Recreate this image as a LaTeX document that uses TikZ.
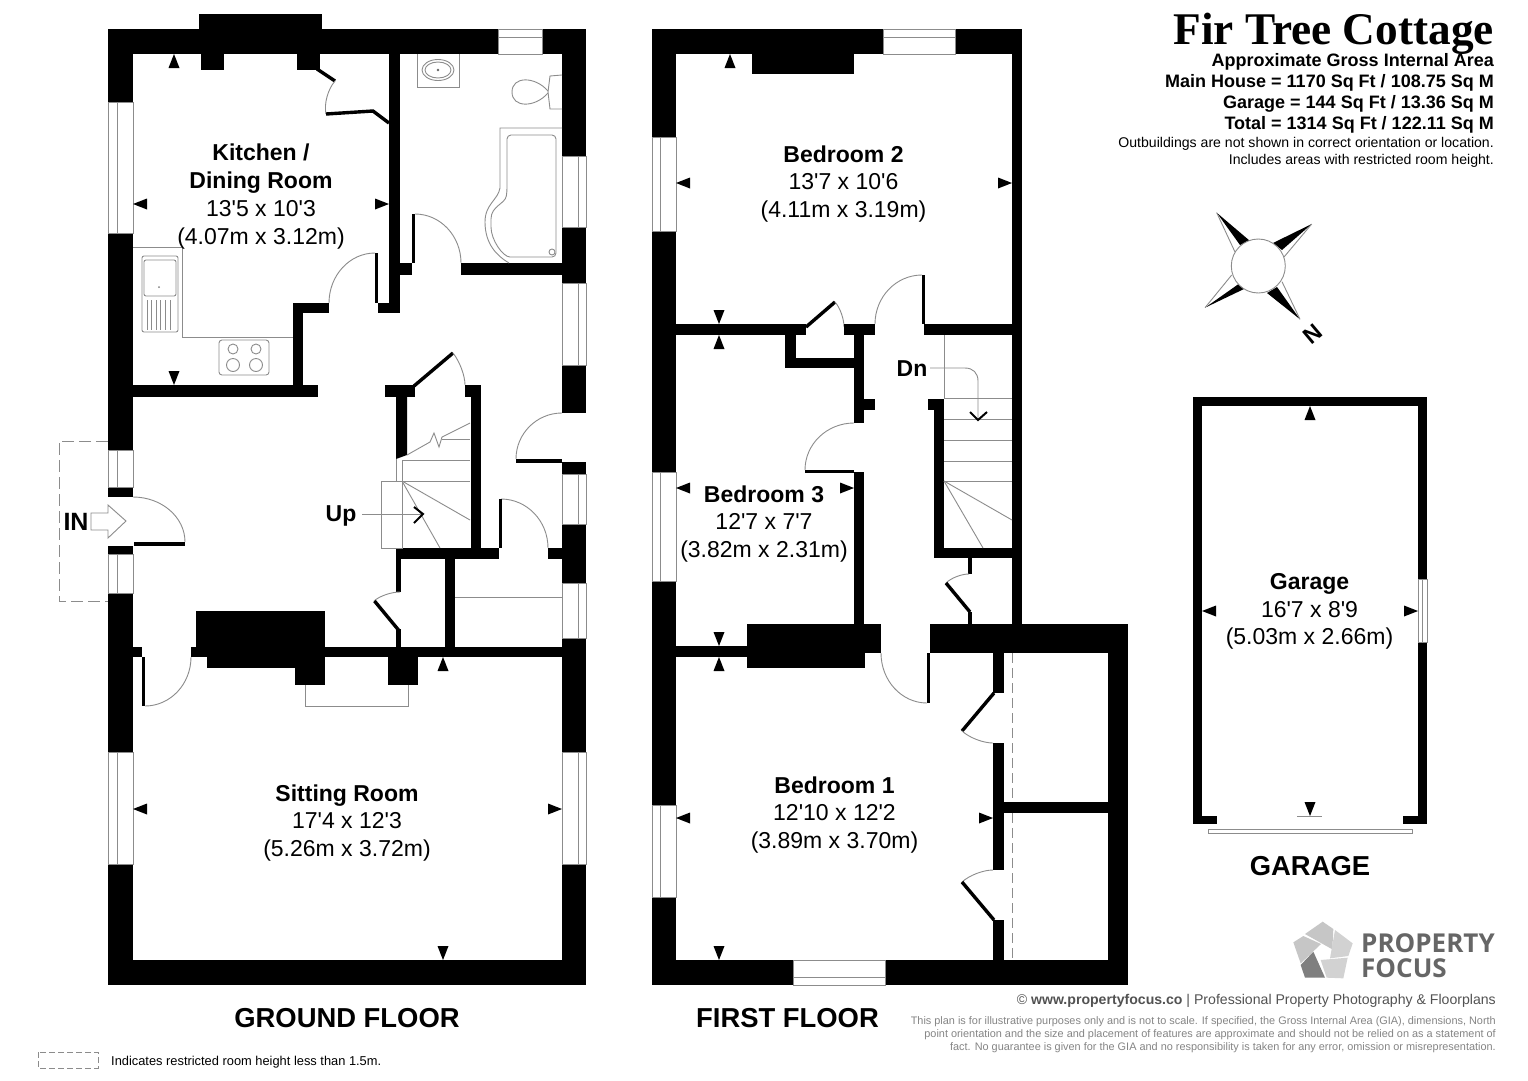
\documentclass[tikz,border=0pt]{standalone}
\usepackage{fontspec}
\newfontfamily\ar{Liberation Sans}
\newfontfamily\tms{Liberation Serif}
\newfontfamily\ops{Open Sans}
\definecolor{thin}{HTML}{8C8C8C}
\definecolor{logoA}{HTML}{C6C6C6}
\definecolor{logoB}{HTML}{D2D2D2}
\definecolor{logoD}{HTML}{7F7F7F}
\newcommand{\wl}[4]{\fill[black] (#1,#2) rectangle (#3,#4);}
\newcommand{\vwin}[5]{\draw[gl] (#1,#2) rectangle (#3,#4); \draw[gl] (#5,#2) -- (#5,#4);}
\newcommand{\hwin}[5]{\draw[gl] (#1,#2) rectangle (#3,#4); \draw[gl] (#1,#5) -- (#3,#5);}
\newcommand{\triU}[2]{\fill[black] (#1,#2) -- ({#1-5.5},{#2+14}) -- ({#1+5.5},{#2+14}) -- cycle;}
\newcommand{\triD}[2]{\fill[black] (#1,#2) -- ({#1-5.5},{#2-14}) -- ({#1+5.5},{#2-14}) -- cycle;}
\newcommand{\triL}[2]{\fill[black] (#1,#2) -- ({#1+14},{#2-5.5}) -- ({#1+14},{#2+5.5}) -- cycle;}
\newcommand{\triR}[2]{\fill[black] (#1,#2) -- ({#1-14},{#2-5.5}) -- ({#1-14},{#2+5.5}) -- cycle;}
\newcommand{\swing}[6]{\draw[gl] (#1,#2) .. controls ({#1+0.5523*(#5-#1)},{#2+0.5523*(#6-#2)}) and ({#3+0.5523*(#5-#3)},{#4+0.5523*(#6-#4)}) .. (#3,#4);}
\newcommand{\leaf}[4]{\draw[lf] (#1,#2) -- (#3,#4);}
\tikzset{
  x=1pt,y=-1pt,
  gl/.style={draw=thin,line width=0.9pt},
  lf/.style={draw=black,line width=3.4pt},
  room/.style={align=center,inner sep=0pt,font=\ar\fontsize{23}{27.7}\selectfont},
  big/.style={inner sep=0pt,font=\ar\bfseries\fontsize{27.4}{30}\selectfont},
  hd/.style={anchor=base east,inner sep=0pt,font=\ar\bfseries\fontsize{18}{20}\selectfont},
  nt/.style={anchor=base east,inner sep=0pt,font=\ar\fontsize{14.1}{17}\selectfont},
  fine/.style={anchor=base east,inner sep=0pt,text=black!48,font=\ar\fontsize{10.9}{14}\selectfont},
  lbl/.style={inner sep=0pt,font=\ar\bfseries\fontsize{23}{26}\selectfont},
  logot/.style={anchor=base west,inner sep=0pt,text=black!60,font=\ops\bfseries\fontsize{26}{28}\selectfont},
}
\begin{document}
\begin{tikzpicture}
\useasboundingbox (0,0) rectangle (1528,1080);
\fill[white] (0,0) rectangle (1528,1080);

%% ---------- GROUND FLOOR ----------
% outer walls
\wl{108}{29}{498}{54} \wl{542}{29}{586}{54}
\wl{108}{29}{133}{102} \wl{108}{233}{133}{450} \wl{108}{487}{133}{497} \wl{108}{546}{133}{554} \wl{108}{593}{133}{752} \wl{108}{864}{133}{985}
\wl{562}{29}{586}{156} \wl{562}{227}{586}{283} \wl{562}{365}{586}{413} \wl{562}{462}{586}{474} \wl{562}{524}{586}{583} \wl{562}{638}{586}{752} \wl{562}{864}{586}{985}
\wl{108}{960}{586}{985}
% windows
\vwin{108}{102}{133}{233}{117}
\vwin{108}{450}{133}{487}{117}
\vwin{108}{554}{133}{593}{117}
\vwin{108}{752}{133}{864}{117}
\vwin{562}{156}{586}{227}{578}
\vwin{562}{283}{586}{365}{578}
\vwin{562}{474}{586}{524}{578}
\vwin{562}{583}{586}{638}{578}
\vwin{562}{752}{586}{864}{578}
\hwin{498}{29}{542}{54}{37}
% kitchen chimney
\wl{199}{14}{322}{39} \wl{201}{29}{224}{70} \wl{297}{29}{320}{70}
% partitions
\wl{389}{54}{400}{313} \wl{378}{303}{400}{313} \wl{400}{263}{412}{275}
\wl{412}{214}{415}{263} \wl{461}{263}{562}{275} \wl{375}{253}{378}{303}
\wl{293}{303}{329}{313} \wl{293}{303}{303}{397} \wl{133}{385}{318}{397}
% kitchen cupboard
\leaf{317}{69}{335}{81}
\swing{335}{81}{326}{114}{322}{96}
\draw[lf] (326,114) -- (373,111) -- (389,123);
% doors
\swing{375}{253}{329}{303}{329}{253}
\swing{415}{214}{461}{263}{461}{214}
\swing{562}{413}{516}{459}{516}{413}
\wl{516}{459}{562}{463}
\swing{501}{499}{548}{548}{548}{499}
\wl{498.5}{499}{501.5}{548}
\wl{548}{548}{562}{559}
\swing{133}{497}{185}{542}{185}{497}
\wl{134}{542}{185}{546}
% stair cupboard
\wl{385}{385}{415}{397}
\fill[black] (396,397) -- (407,397) -- (407,455) -- (396,459) -- cycle;
\leaf{414}{386}{453}{353}
\swing{453}{353}{465}{385}{465}{368}
\wl{465}{385}{480}{397} \wl{470.5}{385}{480.5}{549}
\wl{396}{548}{498.5}{559}
% stairs
\draw[gl] (396,459) -- (396,481);
\draw[gl] (402,460) -- (402,548);
\draw[gl] (402,460.5) -- (470,460.5);
\draw[gl] (381,481) rectangle (402,548);
\draw[gl] (402,481) -- (470,481);
\draw[gl] (402,481) -- (470,520);
\draw[gl] (402,481) -- (440,548);
\draw[gl] (407,455) -- (430,442) -- (434,433) -- (439,447) -- (442,437) -- (470,423);
\draw[gl] (442,439) -- (470,439);
\node[lbl] (upl) at (341,516) {Up};
\coordinate (upend) at (423,514);
\coordinate (upstart) at (362,514);
\draw[gl] (upstart) -- (upend);
\draw[black,line width=2pt] (414,507) -- (upend) -- (414,523);
% lower hall
\wl{396}{559}{400.5}{592} \wl{396}{629}{400.5}{647}
\swing{400}{592}{374}{601}{384}{592}
\leaf{374.5}{601}{398.5}{630}
\wl{445}{559}{455}{647}
\draw[gl] (455,597) -- (562,597);
% sitting top wall
\wl{191}{646.5}{562}{657} \wl{133}{646.5}{142}{657}
\wl{142}{657}{145}{706}
\swing{145}{706}{191}{657}{191}{706}
% chimney
\wl{196}{611}{325}{647} \wl{207}{657}{325}{668} \wl{295}{657}{325}{685} \wl{388}{657}{418}{685}
\draw[gl] (305,685) -- (305,706) -- (408,706) -- (408,685);
% IN
\draw[gl,dashed,dash pattern=on 12pt off 5pt,draw=thin] (108,441) -- (59,441) -- (59,601) -- (108,601);
\draw[gl] (91,513) -- (108,513) -- (108,505) -- (126,521) -- (108,538) -- (108,530) -- (91,530) -- cycle;
\node[inner sep=0pt,font=\ar\bfseries\fontsize{25}{27}\selectfont] (inl) at (76,522) {IN};
% bathroom fittings
\draw[gl] (417,54) -- (417,87) -- (459,87) -- (459,54);
\draw[gl] (438,70) ellipse [x radius=16,y radius=10.5];
\draw[gl] (438,70) ellipse [x radius=13,y radius=8];
\fill[black!60] (438,70) circle (1.4);
\draw[gl] (548,91) .. controls (535,76) and (512,76) .. (512,92) .. controls (512,108) and (535,108) .. (548,93);
\draw[gl] (562,75) -- (550,76) -- (548,92) -- (550,109) -- (562,109);
\draw[gl] (562,128) -- (500,128) -- (500,188) .. controls (498,200) and (485,204) .. (485,222) .. controls (485,244) and (497,256) .. (509,263);
\draw[gl,rounded corners=4pt] (556,135) -- (507,135) -- (507,192) .. controls (505,204) and (491,206) .. (491,223) .. controls (491,240) and (503,257) .. (514,257) -- (556,257) -- cycle;
\draw[gl] (552,252) circle (3);
% kitchen units
\draw[gl] (133,247) -- (182,247) -- (182,337) -- (293,337);
\draw[gl,rounded corners=2pt] (142,256) rectangle (178,332);
\draw[gl,rounded corners=2pt] (144,260) rectangle (176,296);
\fill[black!50] (159,287) circle (1);
\foreach \xx in {147,151.6,156.2,160.8,165.4,170}{\draw[gl] (\xx,300) -- (\xx,330);}
\draw[gl,rounded corners=3pt] (219,340) rectangle (269,375);
\draw[gl] (233,349) circle (5);
\draw[gl] (256,349) circle (5);
\draw[gl] (233,365) circle (6.5);
\draw[gl] (256,365) circle (6.5);
% markers
\triU{174}{54} \triL{133}{204} \triR{389}{204} \triD{174}{385}
\triL{133}{809} \triR{562}{809} \triU{443}{657} \triD{443}{960}

%% ---------- FIRST FLOOR ----------
\wl{652}{29}{883}{54} \wl{955}{29}{1022}{54}
\wl{652}{29}{676}{137} \wl{652}{231}{676}{472} \wl{652}{581}{676}{805} \wl{652}{897}{676}{985}
\wl{652}{960}{793}{985} \wl{885}{960}{1128}{985}
\wl{1012}{29}{1022}{630} \wl{1108}{624}{1128}{985}
\vwin{652}{137}{676}{231}{660}
\vwin{652}{472}{676}{581}{660}
\vwin{652}{805}{676}{897}{660}
\hwin{883}{29}{955}{54}{37}
\hwin{793}{960}{885}{985}{977}
\wl{752}{54}{854}{74}
% bed2 bottom wall & closet
\wl{676}{324}{806}{335}
\leaf{806}{327}{835}{302}
\swing{835}{302}{844}{327}{844}{312}
\wl{844}{324}{875}{335} \wl{924}{324}{1012}{335}
\wl{922}{275}{925}{324}
\swing{922}{275}{875}{324}{875}{275}
\wl{785}{335}{796}{368} \wl{785}{358}{864}{368} \wl{854}{335}{864}{423}
\wl{864}{399}{875}{410}
\swing{854}{423}{805}{470}{805}{423}
\wl{805}{470}{854}{473} \wl{854}{472}{864}{630}
% stairs
\wl{928}{399}{944}{410} \wl{934}{399}{944}{558} \wl{934}{548}{1012}{558}
\draw[gl] (944,335) -- (944,399);
\foreach \yy in {398,419,440,461,481}{\draw[gl] (944,\yy) -- (1012,\yy);}
\draw[gl] (944,481) -- (1012,520);
\draw[gl] (944,481) -- (983,548);
\node[lbl] (dnl) at (912,369) {Dn};
\coordinate (dnend) at (978,420);
\coordinate (dnstart) at (930,368);
\draw[gl] (dnstart) -- (965,368) .. controls (973,368) and (978,373) .. (978,381) -- (dnend);
\draw[black,line width=2pt] (970,412) -- (dnend) -- (987,412);
% hall cupboard
\wl{968}{558}{972}{574} \wl{968}{612}{972}{624}
\swing{969}{574}{946}{583}{955}{574}
\leaf{946}{583}{970}{612}
% bed1 top
\wl{676}{646}{747}{657} \wl{747}{624}{881}{653} \wl{747}{653}{865}{668}
\wl{930}{624}{1128}{653}
\wl{927}{653}{930}{703}
\swing{881}{653}{927}{703}{881}{703}
% storage
\draw[gl,dashed,dash pattern=on 10pt off 5pt] (1012,653) -- (1012,802);
\draw[gl,dashed,dash pattern=on 10pt off 5pt] (1012,813) -- (1012,960);
\wl{993}{653}{1004}{693} \wl{993}{743}{1004}{870} \wl{993}{920}{1004}{960}
\leaf{994}{693}{962}{731}
\swing{962}{731}{993}{743}{975}{743}
\swing{993}{870}{962}{882}{975}{870}
\leaf{962}{882}{994}{920}
\wl{993}{802}{1108}{813}
% markers
\triU{730}{54} \triL{676}{183} \triR{1012}{183} \triD{719}{324}
\triU{719}{335} \triL{676}{488} \triR{854}{488} \triD{719}{646}
\triU{719}{657} \triL{676}{818} \triR{993}{818} \triD{719}{960}

%% ---------- GARAGE ----------
\wl{1193}{397}{1427}{406} \wl{1193}{397}{1202}{824} \wl{1418}{397}{1427}{579} \wl{1418}{642}{1427}{824}
\wl{1193}{816}{1217}{824} \wl{1403}{816}{1427}{824}
\vwin{1418}{579}{1427}{642}{1422.5}
\draw[gl] (1208,829) rectangle (1412,833);
\triU{1310}{406} \triL{1202}{611} \triR{1418}{611} \triD{1310}{816}
\draw[gl] (1297,816) -- (1322,816);

%% ---------- ROOM TEXT ----------
\node[room] (kitchen) at (261,196.5) {\textbf{Kitchen /}\\\textbf{Dining Room}\\13'5 x 10'3\\(4.07m x 3.12m)};
\node[room] (bed2) at (843.5,184) {\textbf{Bedroom 2}\\13'7 x 10'6\\(4.11m x 3.19m)};
\node[room] (bed3) at (764,524) {\textbf{Bedroom 3}\\12'7 x 7'7\\(3.82m x 2.31m)};
\node[room] (bed1) at (834.5,815) {\textbf{Bedroom 1}\\12'10 x 12'2\\(3.89m x 3.70m)};
\node[room] (sitting) at (347,823) {\textbf{Sitting Room}\\17'4 x 12'3\\(5.26m x 3.72m)};
\node[room] (garage) at (1309.5,611.5) {\textbf{Garage}\\16'7 x 8'9\\(5.03m x 2.66m)};
\node[big] (gf) at (347,1018) {GROUND FLOOR};
\node[big] (ff) at (787.5,1018) {FIRST FLOOR};
\node[big] (gg) at (1310,866) {GARAGE};

%% ---------- HEADER ----------
\node[anchor=base east,inner sep=0pt,font=\tms\bfseries\fontsize{45.3}{50}\selectfont] (title) at (1494,44) {Fir Tree Cottage};
\node[hd] (h1) at (1494,66) {Approximate Gross Internal Area};
\node[hd] (h2) at (1494,87) {Main House = 1170 Sq Ft / 108.75 Sq M};
\node[hd] (h3) at (1494,108.5) {Garage = 144 Sq Ft / 13.36 Sq M};
\node[hd] (h4) at (1494,129.5) {Total = 1314 Sq Ft / 122.11 Sq M};
\node[nt] (n1) at (1494,147.5) {Outbuildings are not shown in correct orientation or location.};
\node[nt] (n2) at (1494,164) {Includes areas with restricted room height.};

%% ---------- COMPASS ----------
\fill[black] (1216.7,212.7) -- (1250,241) -- (1240,245) -- cycle;
\draw[gl] (1216.7,212.7) -- (1235,252);
\fill[black] (1311.7,224) -- (1273,243) -- (1282,250) -- cycle;
\draw[gl] (1311.7,224) -- (1284,257);
\fill[black] (1300,319.3) -- (1267,293) -- (1277,287) -- cycle;
\draw[gl] (1300,319.3) -- (1282,281.7);
\fill[black] (1205,307.7) -- (1240,283) -- (1244,289) -- cycle;
\draw[gl] (1205,307.7) -- (1231.7,275);
\draw[gl,fill=white] (1258.3,266) circle (27);
\node[inner sep=0pt,rotate=40,font=\ar\bfseries\fontsize{23}{24}\selectfont] (north) at (1312.7,334) {N};

%% ---------- LOGO & FOOTER ----------
\begin{scope}[shift={(1280,910)},x=0.3333pt,y=-0.3333pt]
\fill[logoA] (75,72) -- (128,35) -- (160,57) -- (157,118) -- cycle;
\fill[logoB] (165,60) -- (218,100) -- (205,138) -- (150,145) -- cycle;
\fill[logoB] (122,150) -- (203,143) -- (190,205) -- (140,203) -- cycle;
\fill[logoD] (62,165) -- (100,125) -- (135,203) -- (75,203) -- cycle;
\fill[logoA] (40,97) -- (70,78) -- (123,102) -- (62,160) -- cycle;
\end{scope}
\node[logot] (lp) at (1361,952) {PROPERTY};
\node[logot] (lf) at (1361,977) {FOCUS};
\node[anchor=base east,inner sep=0pt,text=black!68,font=\ar\fontsize{14.1}{16}\selectfont] (cr) at (1496,1004.5) {© \textbf{www.propertyfocus.co} | Professional Property Photography \& Floorplans};
\node[fine] (f1) at (1496,1024) {This plan is for illustrative purposes only and is not to scale. If specified, the Gross Internal Area (GIA), dimensions, North};
\node[fine] (f2) at (1496,1037) {point orientation and the size and placement of features are approximate and should not be relied on as a statement of};
\node[fine] (f3) at (1496,1050.5) {fact. No guarantee is given for the GIA and no responsibility is taken for any error, omission or misrepresentation.};
\draw[gl,dashed,dash pattern=on 6pt off 3pt] (38,1052) rectangle (98,1068);
\node[anchor=base west,inner sep=0pt,font=\ar\fontsize{12.85}{16}\selectfont] (legend) at (111,1065) {Indicates restricted room height less than 1.5m.};
\end{tikzpicture}
\end{document}
